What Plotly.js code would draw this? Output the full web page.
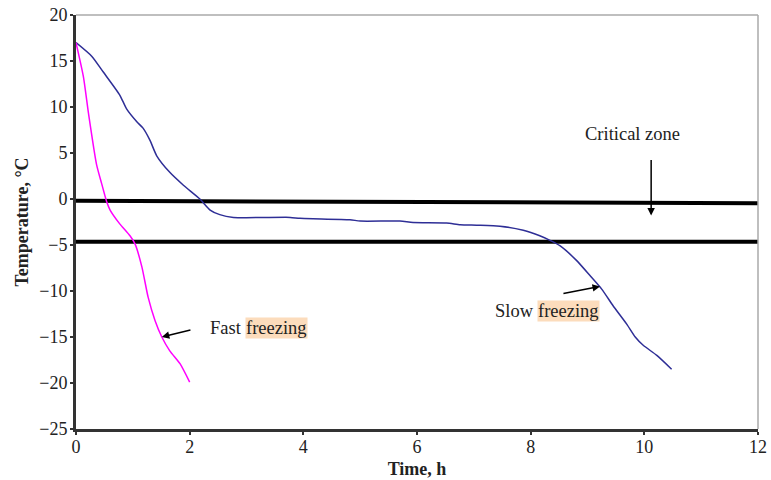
<!DOCTYPE html>
<html>
<head>
<meta charset="utf-8">
<script src="https://cdn.plot.ly/plotly-3.0.1.min.js"></script>
<style>html,body{margin:0;padding:0;background:#fff;}#chart{width:771px;height:480px;}</style>
</head>
<body>
<div id="chart"></div>
<script>
// Slow freezing curve (time in h, temperature in °C)
const slowTime = [0, 0.28, 0.48, 0.77, 0.89, 1.07, 1.18, 1.30, 1.42, 1.65, 1.89, 2.18, 2.36, 2.53, 2.77, 3.77, 3.94, 4.82, 5.0, 5.7, 5.93, 6.52, 6.76, 7.05, 7.46, 7.87, 8.16, 8.34, 8.52, 8.81, 9.04, 9.25, 9.45, 9.69, 9.84, 9.98, 10.22, 10.48];
const slowTemp = [17, 15.5, 13.8, 11.3, 9.8, 8.4, 7.7, 6.4, 4.7, 2.9, 1.5, 0.0, -1.2, -1.7, -2.0, -2.0, -2.1, -2.25, -2.4, -2.4, -2.55, -2.6, -2.8, -2.85, -2.95, -3.4, -4.0, -4.5, -5.1, -6.7, -8.3, -9.8, -11.6, -13.6, -15.0, -15.9, -17.0, -18.5];
// Fast freezing curve
const fastTime = [0, 0.13, 0.22, 0.36, 0.45, 0.54, 0.6, 0.77, 0.95, 1.04, 1.16, 1.27, 1.39, 1.51, 1.65, 1.83, 2.0];
const fastTemp = [17, 13.3, 9.3, 3.8, 1.7, -0.3, -1.2, -2.7, -4.0, -4.9, -7.4, -10.7, -13.2, -15.0, -16.5, -17.9, -19.9];
// Critical zone boundaries
const critX = [0, 12];
const critUpper = [-0.2, -0.45];
const critLower = [-4.65, -4.65];
// Axis ticks
const xTicks = [0, 2, 4, 6, 8, 10, 12];
const yTicks = [-25, -20, -15, -10, -5, 0, 5, 10, 15, 20];

const serif = "'Liberation Serif', 'Times New Roman', serif";
const fs = 18.5;
const tfs = 18;

const traces = [
  {x: critX, y: critUpper, mode: 'lines', line: {color: '#000', width: 4}, hoverinfo: 'skip'},
  {x: critX, y: critLower, mode: 'lines', line: {color: '#000', width: 4}, hoverinfo: 'skip'},
  {x: slowTime, y: slowTemp, mode: 'lines', line: {color: '#2e2e96', width: 1.5, shape: 'spline', smoothing: 0.6}},
  {x: fastTime, y: fastTemp, mode: 'lines', line: {color: '#ff00ff', width: 1.5, shape: 'spline', smoothing: 0.6}}
];

const hl = '#fcdcbc';
const layout = {
  width: 771, height: 480,
  margin: {l: 76, r: 13, t: 15, b: 51},
  paper_bgcolor: '#fff', plot_bgcolor: '#fff',
  showlegend: false,
  font: {family: serif, size: fs, color: '#222'},
  xaxis: {
    range: [0, 12], tickvals: xTicks, ticktext: xTicks.map(String),
    showgrid: false, zeroline: false,
    showline: true, linecolor: '#333', linewidth: 3,
    ticks: 'outside', ticklen: 3, tickwidth: 2, tickcolor: '#333',
    ticklabelstandoff: -4,
    tickfont: {family: serif, size: tfs, color: '#222'},
    title: {text: '<b>Time, h</b>', font: {family: serif, size: tfs, color: '#222'}, standoff: 7}
  },
  yaxis: {
    range: [-25, 20], tickvals: yTicks,
    showgrid: false, zeroline: false,
    showline: true, linecolor: '#333', linewidth: 3,
    ticks: 'outside', ticklen: 3, tickwidth: 2, tickcolor: '#333',
    ticklabelstandoff: -1,
    tickfont: {family: serif, size: tfs, color: '#222'},
    title: {text: '<b>Temperature, °C</b>', font: {family: serif, size: tfs, color: '#222'}, standoff: 6}
  },
  shapes: [
    {type: 'line', xref: 'paper', yref: 'paper', x0: 0, x1: 1, y0: 1, y1: 1, line: {color: '#aaa', width: 1.5}},
    {type: 'line', xref: 'paper', yref: 'paper', x0: 1, x1: 1, y0: 0, y1: 1, line: {color: '#aaa', width: 1.5}}
  ],
  annotations: [
    {x: 8.92, y: 7.1, xref: 'x', yref: 'y', xanchor: 'left', text: 'Critical zone', showarrow: false, font: {size: fs, color: '#222'}},
    {x: 10.12, y: -1.8, ax: 10.12, ay: 4.4, xref: 'x', yref: 'y', axref: 'x', ayref: 'y', text: '', showarrow: true, arrowhead: 2, arrowsize: 1, arrowwidth: 1.5, arrowcolor: '#000'},
    {x: 2.32, y: -14.0, xref: 'x', yref: 'y', xanchor: 'left', text: 'Fast', showarrow: false, font: {size: fs, color: '#222'}},
    {x: 2.98, y: -14.0, xref: 'x', yref: 'y', xanchor: 'left', text: 'freezing', showarrow: false, bgcolor: hl, borderpad: 0, font: {size: fs, color: '#222'}},
    {x: 1.51, y: -15.0, ax: 2.04, ay: -14.2, xref: 'x', yref: 'y', axref: 'x', ayref: 'y', text: '', showarrow: true, arrowhead: 2, arrowsize: 1, arrowwidth: 1.5, arrowcolor: '#000'},
    {x: 7.34, y: -12.2, xref: 'x', yref: 'y', xanchor: 'left', text: 'Slow', showarrow: false, font: {size: fs, color: '#222'}},
    {x: 8.12, y: -12.2, xref: 'x', yref: 'y', xanchor: 'left', text: 'freezing', showarrow: false, bgcolor: hl, borderpad: 0, font: {size: fs, color: '#222'}},
    {x: 9.22, y: -9.5, ax: 8.55, ay: -10.3, xref: 'x', yref: 'y', axref: 'x', ayref: 'y', text: '', showarrow: true, arrowhead: 2, arrowsize: 1, arrowwidth: 1.5, arrowcolor: '#000'}
  ]
};

Plotly.newPlot('chart', traces, layout, {staticPlot: true, displayModeBar: false});
</script>
</body>
</html>
